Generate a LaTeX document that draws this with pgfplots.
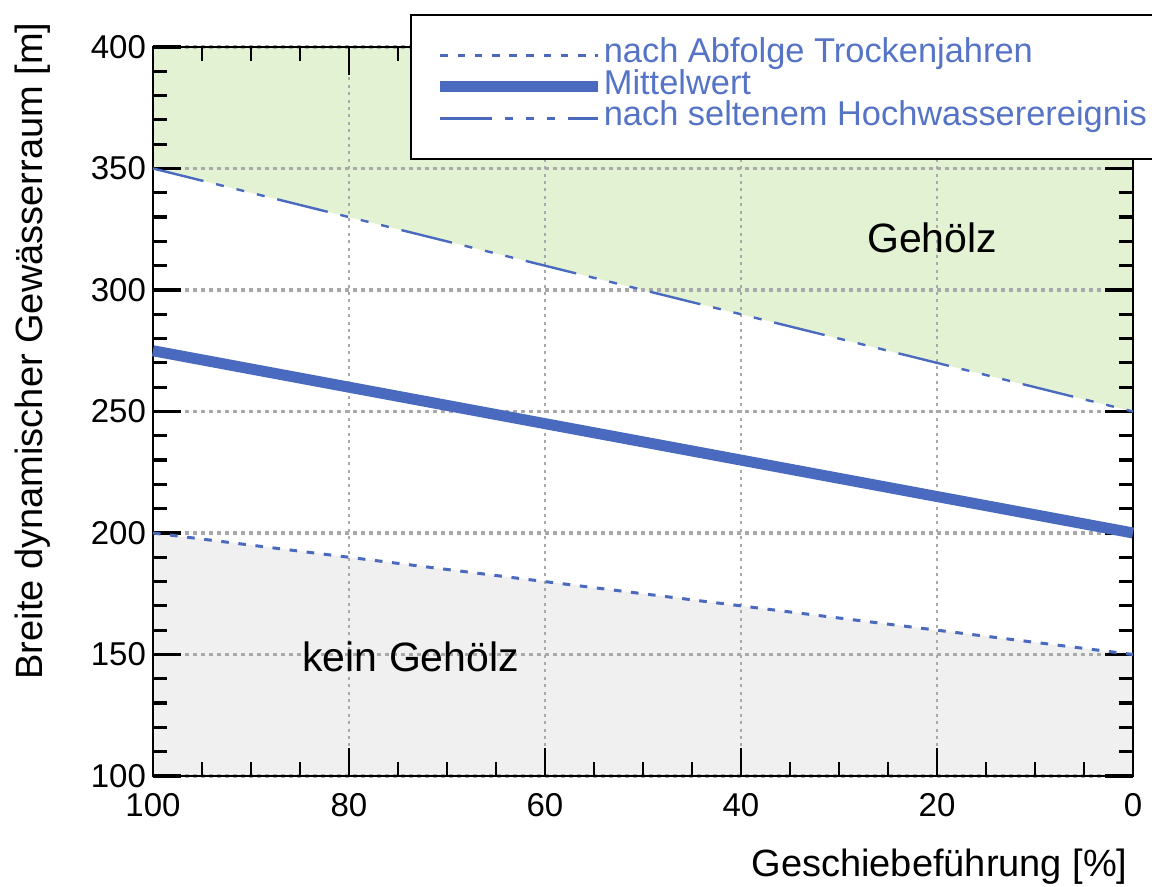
\documentclass[border=0pt]{standalone}
\usepackage{pgfplots}
\pgfplotsset{compat=1.18}
\usepackage{fontspec}
\setmainfont{Liberation Sans}
\definecolor{lineblue}{HTML}{4A6AC0}
\definecolor{legtext}{HTML}{5574C6}
\definecolor{greenfill}{HTML}{E3F2D3}
\definecolor{grayfill}{HTML}{F0F0F0}
\definecolor{gridgray}{HTML}{A9A9A9}
\begin{document}
\begin{tikzpicture}
\begin{axis}[
  set layers,
  at={(0,0)}, anchor=south west,
  scale only axis, width=490pt, height=364.5pt,
  x dir=reverse,
  xmin=0, xmax=100, ymin=100, ymax=400,
  xtick={0,20,...,100}, ytick={100,150,...,400},
  minor x tick num=3, minor y tick num=4,
  tick align=inside,
  major tick length=14pt, minor tick length=7pt,
  tick style={black, line width=1.3pt},
  every major y tick/.append style={line width=1.8pt},
  every minor y tick/.append style={line width=1.6pt},
  axis line style={black, line width=1.4pt},
  grid=major,
  major grid style={gridgray},
  every axis y grid/.append style={line width=1.6pt, dash pattern=on 2pt off 2pt},
  every axis x grid/.append style={line width=0.9pt, dash pattern=on 1.5pt off 2.2pt},
  /pgf/number format/assume math mode=true,
  tick label style={font=\fontsize{16.5}{18}\selectfont},
  xticklabel style={yshift=-5pt},
  xlabel={Geschiebeführung [\%]},
  ylabel={Breite dynamischer Gewässerraum [m]},
  label style={font=\fontsize{19}{21}\selectfont},
  xlabel style={at={([xshift=-2.5pt,yshift=-50.5pt]rel axis cs:1,0)}, anchor=base east, inner sep=0pt},
  ylabel style={at={([xshift=-55pt]rel axis cs:0,0.583)}, anchor=base, inner sep=0pt},
  clip=false,
  legend cell align=left,
  legend image code/.code={\draw[#1] (0pt,0pt) -- (79pt,0pt);},
  legend style={at={(rel axis cs:0.2622,1.0453)}, anchor=north west,
    draw=black, line width=0.9pt, fill=white,
    font=\fontsize{17.2}{17}\selectfont, text=legtext,
    inner xsep=12pt, inner ysep=12.5pt, row sep=0pt,
    nodes={inner sep=0pt, text height=11.5pt, text depth=4.2pt},
    /tikz/every even column/.append style={column sep=6pt}},
]
% filled regions
\addplot[forget plot, draw=none, fill=greenfill, on layer=axis background]
  coordinates {(100,350) (0,250) (0,400) (100,400)} -- cycle;
\addplot[forget plot, draw=none, fill=grayfill, on layer=axis background]
  coordinates {(100,200) (0,150) (0,100) (100,100)} -- cycle;
% lines
\addplot[lineblue, line width=1.5pt, dash pattern=on 3.8pt off 4.8pt]
  coordinates {(100,200) (80,190) (60,180) (40,170) (20,160) (0,150)};
\addlegendentry{nach Abfolge Trockenjahren}
\addplot[lineblue, line width=5.5pt]
  coordinates {(100,275) (80,260) (60,245) (40,230) (20,215) (0,200)};
\addlegendentry{Mittelwert}
\addplot[lineblue, line width=1.2pt, dash pattern=on 26pt off 6.5pt on 4pt off 6.5pt on 4pt off 6.5pt on 4pt off 6.5pt]
  coordinates {(100,350) (80,330) (60,310) (40,290) (20,270) (0,250)};
\addlegendentry{nach seltenem Hochwasserereignis}
% annotations
\node[font=\fontsize{20.5}{22}\selectfont, text=black] at (axis cs:20.5,321.4) {Gehölz};
\node[font=\fontsize{20.5}{22}\selectfont, text=black] at (axis cs:73.7,149) {kein Gehölz};
\end{axis}
\pgfresetboundingbox
\path[use as bounding box] (-76.5pt,-55.5pt) rectangle (499.5pt,388pt);
\end{tikzpicture}
\end{document}
